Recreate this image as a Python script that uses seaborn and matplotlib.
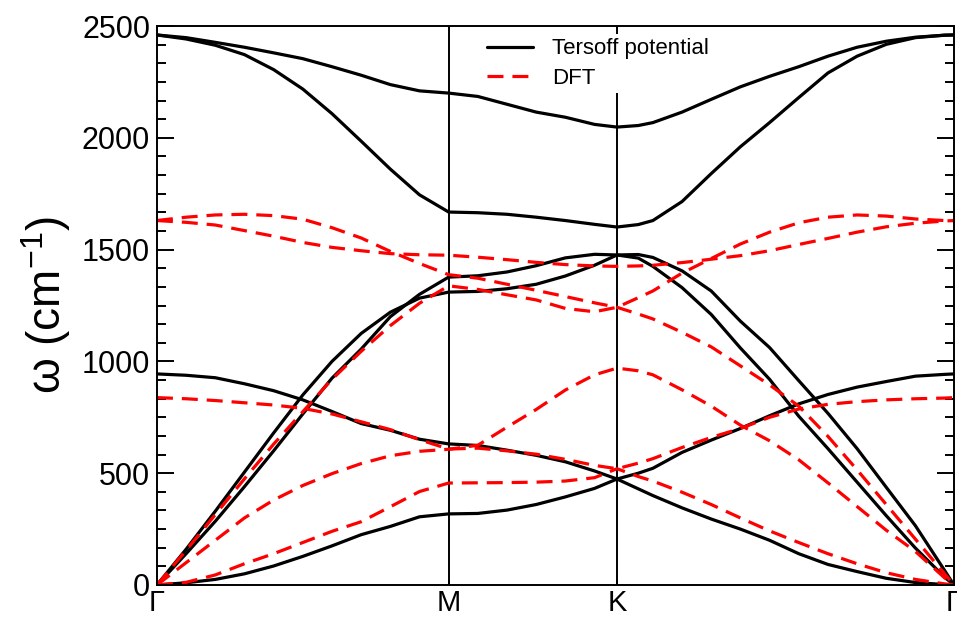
import matplotlib
matplotlib.use("Agg")
import matplotlib.pyplot as plt
from matplotlib.lines import Line2D
from matplotlib.ticker import MultipleLocator
import pandas as pd
import seaborn as sns

# path coordinate along Gamma-M-K-Gamma (M at 1, K at 1 + 1/sqrt(3))
Q_PATH = [0.0, 0.1, 0.2, 0.3, 0.4, 0.5, 0.6, 0.7, 0.8, 0.9, 1.0,
          1.1, 1.2, 1.3, 1.4, 1.5, 1.577,
          1.65, 1.7, 1.8, 1.9, 2.0, 2.1, 2.2, 2.3, 2.4, 2.5, 2.6, 2.7, 2.732]
HS_POS = [0.0, 1.0, 1.577, 2.732]
HS_LABELS = ["Γ", "M", "K", "Γ"]

# Tersoff potential branches (cm^-1)
ters_opt_hi = [2460, 2448, 2427, 2405, 2380, 2354, 2318, 2280, 2238, 2210, 2200,
               2185, 2150, 2115, 2092, 2060, 2048,
               2055, 2068, 2115, 2172, 2228, 2275, 2318, 2365, 2405, 2432, 2450, 2459, 2460]
ters_opt_lo = [2460, 2442, 2414, 2372, 2305, 2218, 2108, 1985, 1860, 1745, 1668,
               1665, 1658, 1645, 1630, 1613, 1601,
               1612, 1630, 1715, 1840, 1960, 2068, 2180, 2290, 2365, 2418, 2448, 2459, 2460]
ters_zo = [944, 938, 927, 900, 869, 828, 776, 722, 692, 652, 631,
           624, 603, 580, 551, 510, 474,
           500, 522, 593, 648, 700, 757, 810, 852, 885, 910, 934, 942, 944]
ters_za = [0, 10, 25, 50, 85, 128, 175, 225, 262, 305, 318,
           320, 335, 360, 394, 432, 474,
           430, 400, 345, 295, 250, 200, 140, 92, 60, 30, 11, 2, 0]
ters_ac_a = [0, 160, 330, 505, 680, 850, 1000, 1125, 1220, 1283, 1310,
             1313, 1325, 1345, 1382, 1430, 1476,
             1478, 1465, 1405, 1315, 1180, 1062, 914, 768, 610, 437, 265, 65, 0]
ters_ac_b = [0, 140, 285, 440, 600, 765, 925, 1055, 1200, 1300, 1377,
             1383, 1400, 1428, 1463, 1479, 1476,
             1462, 1425, 1330, 1210, 1060, 920, 755, 610, 460, 310, 165, 35, 0]

# DFT branches (cm^-1)
dft_lo = [1630, 1645, 1655, 1658, 1652, 1636, 1598, 1552, 1492, 1438, 1388,
          1372, 1345, 1318, 1290, 1262, 1242,
          1212, 1190, 1130, 1065, 980, 895, 800, 665, 515, 360, 205, 50, 0]
dft_to = [1630, 1622, 1610, 1585, 1560, 1532, 1510, 1495, 1482, 1477, 1475,
          1466, 1455, 1443, 1433, 1427, 1425,
          1427, 1430, 1442, 1457, 1473, 1495, 1523, 1550, 1578, 1602, 1618, 1628, 1630]
dft_la = [0, 155, 315, 475, 630, 775, 920, 1045, 1160, 1260, 1338,
          1322, 1298, 1275, 1237, 1222, 1242,
          1285, 1315, 1395, 1460, 1525, 1578, 1620, 1645, 1655, 1650, 1637, 1630, 1630]
dft_ta = [0, 100, 200, 300, 380, 445, 498, 543, 578, 598, 607,
          625, 706, 785, 872, 940, 970,
          958, 940, 873, 800, 715, 645, 560, 457, 351, 245, 150, 32, 0]
dft_zo = [838, 833, 825, 815, 805, 790, 765, 730, 695, 650, 608,
          612, 600, 585, 562, 535, 520,
          545, 565, 615, 660, 700, 750, 787, 808, 820, 828, 833, 836, 838]
dft_za = [0, 12, 45, 95, 140, 190, 240, 283, 350, 418, 456,
          457, 458, 460, 465, 480, 520,
          485, 465, 415, 360, 300, 242, 190, 140, 95, 55, 25, 5, 0]

TERSOFF_BANDS = [ters_opt_hi, ters_opt_lo, ters_zo, ters_za, ters_ac_a, ters_ac_b]
DFT_BANDS = [dft_lo, dft_to, dft_la, dft_ta, dft_zo, dft_za]

LW = 2.3
DASH = (0, (5, 2.8))


def build_frame(bands, method):
    rows = []
    for i, band in enumerate(bands):
        for q, w in zip(Q_PATH, band):
            rows.append({"q": q, "omega": w, "band": i, "method": method})
    return pd.DataFrame(rows)


def main():
    sns.set_style("ticks")
    plt.rcParams["font.family"] = ["Liberation Sans", "DejaVu Sans"]
    plt.rcParams["mathtext.default"] = "regular"
    for key in ["text.color", "axes.labelcolor", "xtick.color", "ytick.color"]:
        plt.rcParams[key] = "black"

    ters = build_frame(TERSOFF_BANDS, "Tersoff potential")
    dft = build_frame(DFT_BANDS, "DFT")

    fig = plt.figure(figsize=(9.57, 6.18), dpi=100)
    ax = fig.add_axes([0.164, 0.0534, 0.8328, 0.9045])

    for x in HS_POS[1:3]:
        ax.axvline(x, color="black", lw=1.4, zorder=1)

    sns.lineplot(data=ters, x="q", y="omega", units="band", estimator=None,
                 sort=False, color="black", lw=LW, legend=False, ax=ax)
    sns.lineplot(data=dft, x="q", y="omega", units="band", estimator=None,
                 sort=False, color="#ff0000", lw=LW, linestyle=DASH,
                 legend=False, ax=ax)

    ax.set_xlim(HS_POS[0], HS_POS[-1])
    ax.set_ylim(0, 2500)
    ax.set_xticks(HS_POS)
    ax.set_xticklabels(HS_LABELS)
    ax.yaxis.set_major_locator(MultipleLocator(500))
    ax.yaxis.set_minor_locator(MultipleLocator(500 / 6))
    ax.set_xlabel("")
    ax.set_ylabel(r"ω (cm$^{-1}$)", fontsize=33, labelpad=6)

    for side in ["left", "right", "top", "bottom"]:
        ax.spines[side].set_visible(True)
        ax.spines[side].set_linewidth(1.4)
        ax.spines[side].set_color("black")

    ax.tick_params(axis="y", which="major", direction="in", length=12, width=1.4,
                   left=True, right=True, labelsize=22, pad=5)
    ax.tick_params(axis="y", which="minor", direction="in", length=6.5, width=1.4,
                   left=True, right=True)
    ax.tick_params(axis="x", which="major", direction="in", length=3.5, width=1.4,
                   top=True, bottom=True, labelsize=21, pad=3)

    handles = [Line2D([], [], color="black", lw=LW),
               Line2D([], [], color="#ff0000", lw=LW, linestyle=DASH)]
    leg = ax.legend(handles, ["Tersoff potential", "DFT"], loc="upper left",
                    bbox_to_anchor=(0.408, 0.986), borderaxespad=0, fontsize=16,
                    handlelength=2.1, handletextpad=0.85, labelspacing=0.38,
                    borderpad=0.2, frameon=True, fancybox=False, framealpha=1)
    leg.get_frame().set_facecolor("white")
    leg.get_frame().set_edgecolor("none")

    fig.savefig("out.png", dpi=100)
    plt.close(fig)


if __name__ == "__main__":
    main()
